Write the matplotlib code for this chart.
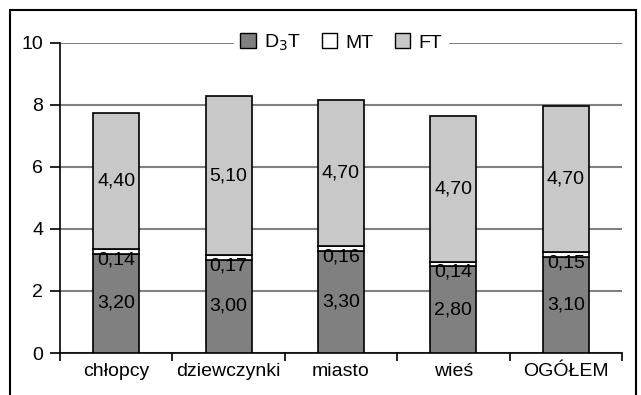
import matplotlib.pyplot as plt
import numpy as np
from matplotlib.patches import Rectangle, Patch

plt.rcParams['font.family'] = ['Liberation Sans', 'DejaVu Sans']

categories = ['chłopcy', 'dziewczynki', 'miasto', 'wieś', 'OGÓŁEM']
d3t = [3.20, 3.00, 3.30, 2.80, 3.10]
mt = [0.14, 0.17, 0.16, 0.14, 0.15]
ft = [4.40, 5.10, 4.70, 4.70, 4.70]
series_names = ['D$_3$T', 'MT', 'FT']
colors = ['#808080', '#ffffff', '#c8c8c8']

fs = 14

fig = plt.figure(figsize=(6.41, 3.95), dpi=100)
ax = fig.add_axes([60 / 641, 1 - 353 / 395, 562 / 641, (353 - 42.7) / 395])

x = np.arange(len(categories))
w = 0.41
d3t = np.array(d3t)
mt = np.array(mt)
ft = np.array(ft)

ax.bar(x, d3t, w, color=colors[0], edgecolor='black', linewidth=1.2, zorder=3)
ax.bar(x, mt, w, bottom=d3t, color=colors[1], edgecolor='black', linewidth=1.2, zorder=3)
ax.bar(x, ft, w, bottom=d3t + mt, color=colors[2], edgecolor='black', linewidth=1.2, zorder=3)

fmt = lambda v: f'{v:.2f}'.replace('.', ',')
for i in range(len(x)):
    ax.text(x[i], d3t[i] / 2, fmt(d3t[i]), ha='center', va='center', fontsize=fs, zorder=5)
    ax.text(x[i], d3t[i] - 0.2, fmt(mt[i]), ha='center', va='center', fontsize=fs, zorder=5)
    ax.text(x[i], d3t[i] + mt[i] + ft[i] / 2, fmt(ft[i]), ha='center', va='center', fontsize=fs, zorder=5)

ax.set_ylim(0, 10)
ax.set_xlim(-0.5, len(categories) - 0.5)
ax.set_yticks([0, 2, 4, 6, 8, 10])
ax.yaxis.grid(True, color='#808080', linewidth=1.5, zorder=0)
ax.set_xticks(x)
ax.set_xticklabels(categories)
ax.set_xticks(np.arange(len(categories) + 1) - 0.5, minor=True)
ax.tick_params(axis='x', which='major', length=0, labelsize=fs, pad=7)
ax.tick_params(axis='x', which='minor', length=6, width=1.2, direction='out')
ax.tick_params(axis='y', length=7, width=1.2, labelsize=fs, pad=5)
for s in ['top', 'right']:
    ax.spines[s].set_visible(False)
for s in ['left', 'bottom']:
    ax.spines[s].set_linewidth(1.2)

handles = [Patch(facecolor=c, edgecolor='black', linewidth=1) for c in colors]
leg = ax.legend(handles, series_names, loc='center', bbox_to_anchor=(0.5, 1.0), ncol=3,
                frameon=True, fontsize=fs, handlelength=0.8, handleheight=0.8,
                handletextpad=0.4, columnspacing=1.1, borderpad=0.3, fancybox=False)
leg.get_frame().set_facecolor('white')
leg.get_frame().set_edgecolor('white')
leg.get_frame().set_alpha(1)
leg.set_zorder(10)

fig.patches.append(Rectangle((10 / 641, -0.05), 626 / 641, 1.05 - 10 / 395,
                             transform=fig.transFigure, fill=False,
                             edgecolor='black', linewidth=1.5))

fig.savefig('out.png', dpi=100)
